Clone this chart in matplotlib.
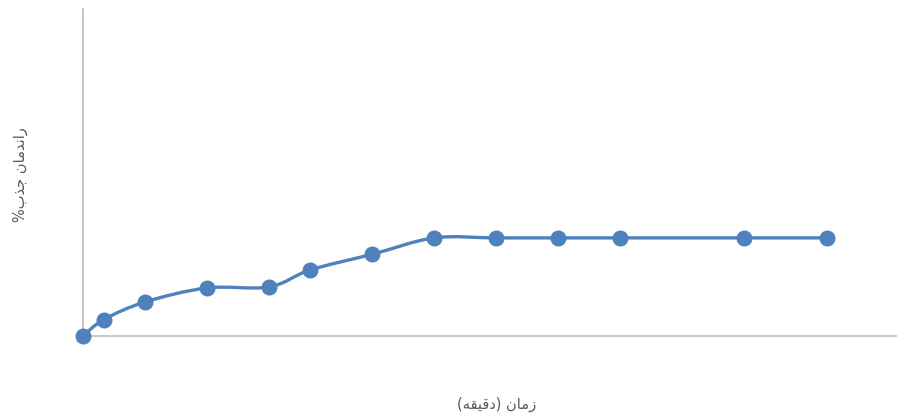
import numpy as np
import matplotlib
matplotlib.use("Agg")
import matplotlib.pyplot as plt
from matplotlib.path import Path
import matplotlib.patches as mpatches

# data (time in minutes, removal efficiency in %)
time_min = [0, 5, 15, 30, 45, 55, 70, 85, 100, 115, 130, 160, 180]
efficiency = [0, 5, 10.4, 14.7, 15, 20.2, 25, 30, 30, 30, 30, 30, 30]

# labels (pre-shaped Persian, visual order, since matplotlib has no RTL shaping)
ylabel_txt = "%\uFE8F\uFEAC\uFE9F \uFEE5\uFE8E\uFEE3\uFEAA\uFEE7\uFE8D\uFEAD"
xlabel_txt = "(\uFEEA\uFED8\uFEF4\uFED7\uFEA9) \uFEE5\uFE8E\uFEE3\uFEAF"

line_color = "#4f81bd"
axis_color = "#bfbfbf"
text_color = "#595959"

fig = plt.figure(figsize=(8.97, 4.14), dpi=100)
ax = fig.add_axes([83 / 897, 1 - 337 / 414, (897 - 83) / 897, (337 - 10) / 414])

# smooth line like Excel's "smoothed line" (Catmull-Rom as Bezier segments)
pts = np.column_stack([time_min, efficiency]).astype(float)
verts = [pts[0]]
codes = [Path.MOVETO]
n = len(pts)
for i in range(n - 1):
    p0 = pts[max(i - 1, 0)]
    p1 = pts[i]
    p2 = pts[i + 1]
    p3 = pts[min(i + 2, n - 1)]
    c1 = p1 + (p2 - p0) / 6.0
    c2 = p2 - (p3 - p1) / 6.0
    verts += [c1, c2, p2]
    codes += [Path.CURVE4] * 3
ax.add_patch(mpatches.PathPatch(Path(verts, codes), fill=False,
                                edgecolor=line_color, lw=2.4, zorder=3,
                                capstyle="round", clip_on=False))
ax.plot(time_min, efficiency, linestyle="none", marker="o", markersize=10.5,
        color=line_color, zorder=4, clip_on=False)

ax.set_xlim(0, 197)
ax.set_ylim(0, 100)

for side in ["top", "right"]:
    ax.spines[side].set_visible(False)
for side in ["left", "bottom"]:
    ax.spines[side].set_color(axis_color)
    ax.spines[side].set_linewidth(1.2)
ax.set_xticks([])
ax.set_yticks([])

fig.text(20 / 897, 1 - 175 / 414, ylabel_txt, rotation=90, ha="center", va="center",
         fontsize=10.5, color=text_color, family=["DejaVu Sans"])
fig.text(497 / 897, 1 - 404 / 414, xlabel_txt, ha="center", va="center",
         fontsize=10.5, color=text_color, family=["DejaVu Sans"])

fig.savefig("out.png", dpi=100)
